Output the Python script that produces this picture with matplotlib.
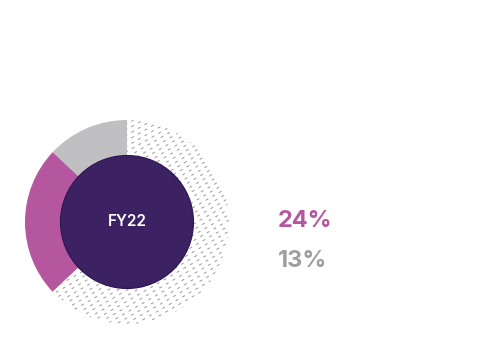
import matplotlib
matplotlib.use('Agg')
import matplotlib.pyplot as plt
import numpy as np

# share of the ring, counterclockwise from 12 o'clock
labels = ['Grey', 'Magenta', 'Rest']
shares = [13, 24, 63]
label_text = ['24%', '13%']
centre_label = 'FY22'

GREY = '#c0bfc2'
MAGENTA = '#b5579f'
PURPLE = '#3c2163'
TEXT_GREY = '#9e9e9e'

plt.rcParams['font.family'] = ['Inter', 'DejaVu Sans']
plt.rcParams['lines.scale_dashes'] = False

fig = plt.figure(figsize=(5, 3.61), dpi=100)
ax = fig.add_axes([0, 0, 1, 1])

cx, cy, R = 127, 361 - 222, 102
wedges, _ = ax.pie(shares, center=(cx, cy), radius=R, startangle=90,
                   counterclock=True, colors=[GREY, MAGENTA, 'white'],
                   wedgeprops=dict(linewidth=0))

# dashed diagonal hatch inside the remaining wedge
rest = wedges[2]
ang = np.deg2rad(30)
d = np.array([np.cos(ang), np.sin(ang)])
n = np.array([-np.sin(ang), np.cos(ang)])
for off in np.arange(-R - 5, R + 5, 4.8):
    p0 = np.array([cx, cy]) + n * off - d * (R + 10)
    p1 = np.array([cx, cy]) + n * off + d * (R + 10)
    ln, = ax.plot([p0[0], p1[0]], [p0[1], p1[1]], color='#9a9a9a',
                  linewidth=0.7, dashes=(2.2, 3.3))
    ln.set_clip_path(rest)

inner = plt.Circle((cx, cy), 66.5, facecolor=PURPLE, edgecolor='#2a1450',
                   linewidth=0.8, zorder=5)
ax.add_patch(inner)
ax.text(cx, cy, centre_label, color='white', fontsize=11, fontweight='semibold',
        ha='center', va='center', zorder=6)

ax.text(278, 361 - 221, label_text[0], color=MAGENTA, fontsize=17,
        fontweight='bold', ha='left', va='center')
ax.text(278, 361 - 261, label_text[1], color=TEXT_GREY, fontsize=17,
        fontweight='bold', ha='left', va='center')

ax.set_xlim(0, 500)
ax.set_ylim(0, 361)
ax.set_aspect('equal')
ax.axis('off')

fig.savefig('out.png', dpi=100)
